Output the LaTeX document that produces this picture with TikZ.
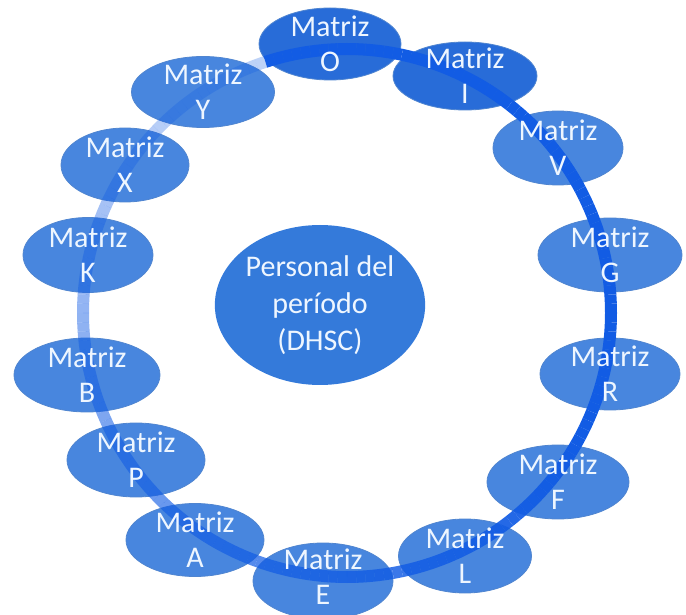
\documentclass[tikz,border=0pt]{standalone}
\usepackage{fontspec}
\setmainfont{Carlito}
\usetikzlibrary{shapes.geometric}

\definecolor{matfill}{RGB}{72,134,222}
\definecolor{matdark}{RGB}{40,108,216}
\definecolor{cenfill}{RGB}{52,122,218}
\definecolor{ringblue}{RGB}{18,92,228}
\definecolor{txtwhite}{RGB}{238,246,255}

\tikzset{
  matriz/.style={ellipse, fill=matfill, draw=matfill!85!gray, line width=0.8pt, inner sep=0pt},
  mtext/.style={text=txtwhite, align=center, inner sep=0pt, font=\fontsize{30}{35}\selectfont},
  ring/.style={draw=ringblue, line width=12pt, line cap=butt}
}

\begin{document}
\begin{tikzpicture}[x=1pt,y=1pt]
        \useasboundingbox (0,0) rectangle (686,614);
        \clip (0,0) rectangle (686,614);
        % Matrices
        \node[matriz, minimum width=143, minimum height=71] (mY) at (203,522) {};
        \node[matriz, minimum width=128, minimum height=74] (mX) at (125,449) {};
        \node[matriz, minimum width=130, minimum height=75] (mK) at (88,359) {};
        \node[matriz, minimum width=146, minimum height=74] (mB) at (87,239) {};
        \node[matriz, minimum width=138, minimum height=74] (mP) at (136,154) {};
        \node[matriz, minimum width=138, minimum height=73] (mA) at (195,74) {};
        \node[matriz, minimum width=140, minimum height=76] (mE) at (323,33) {};
        \node[matriz, minimum width=133, minimum height=74] (mL) at (465,58) {};
        \node[matriz, minimum width=142, minimum height=74] (mF) at (558,132) {};
        \node[matriz, minimum width=140, minimum height=72] (mR) at (610,240) {};
        \node[matriz, minimum width=144, minimum height=74] (mG) at (610,359) {};
        \node[matriz, minimum width=130, minimum height=74] (mV) at (558,466) {};
        \node[matriz, fill=matdark, minimum width=144, minimum height=68] (mI) at (465,538) {};
        \node[matriz, fill=matdark, minimum width=142, minimum height=72] (mO) at (330,570) {};
        % Anillo
        \coordinate (C) at (347,301);
        \foreach \a in {0,2,...,358}{
          \pgfmathsetmacro\s{mod(\a-108+720,360)}
          \pgfmathsetmacro\op{0.28+0.72*min(1,max(0,\s-20)/200)}
          \draw[ring, draw opacity=\op] (C) ++(\a:264) arc[start angle=\a, end angle=\a+2, radius=264];
        }
        % Textos
        \foreach \n in {Y,X,K,B,P,A,L,F,R,G,V,I,O}
          \node[mtext] (t\n) at (m\n) {Matriz\\\n};
        \node[mtext] (tE) at ([yshift=4pt]mE) {Matriz\\E};
        % Centro
        \node[ellipse, fill=cenfill, minimum width=198, minimum height=160, inner sep=0pt,
              text=txtwhite, align=center, font=\fontsize{30}{37}\selectfont] (centro) at (320,309)
              {Personal del\\período\\(DHSC)};
\end{tikzpicture}
\end{document}
